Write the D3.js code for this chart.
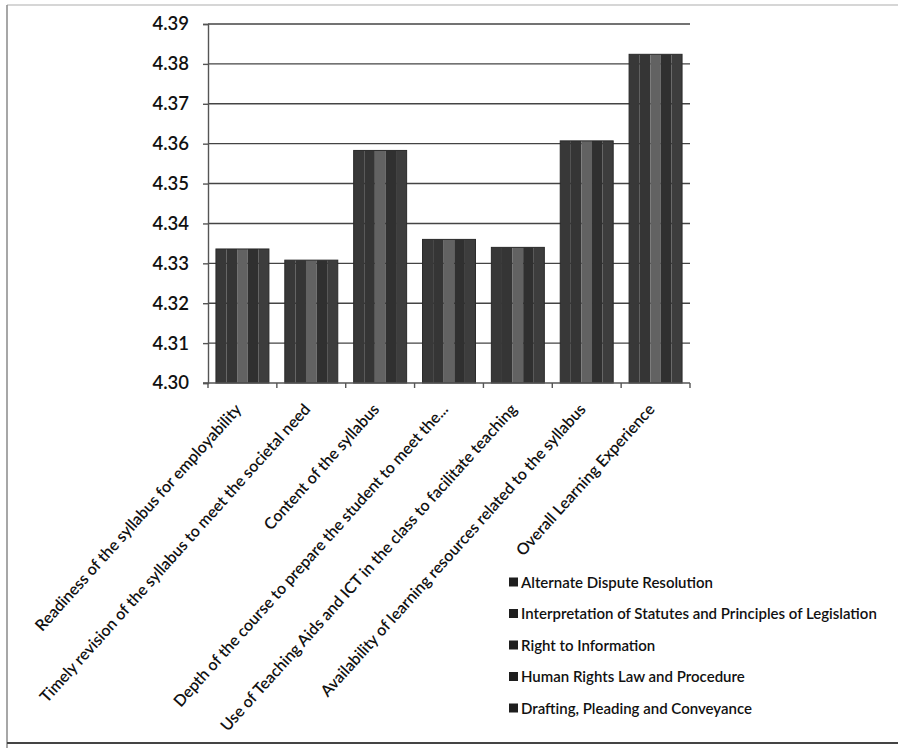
<!DOCTYPE html>
<html><head><meta charset="utf-8">
<script src="https://cdn.jsdelivr.net/npm/d3@7"></script>
<style>
body{margin:0;background:#fff;}
svg{display:block;font-family:Lato,"Open Sans",sans-serif;}
</style></head>
<body><svg id="c" width="898" height="748"></svg>
<script>
const categories = [
  "Readiness of the syllabus for employability",
  "Timely revision of the syllabus to meet the societal need",
  "Content of the syllabus",
  "Depth of the course to prepare the student to meet the...",
  "Use of Teaching Aids and ICT in the class to facilitate teaching",
  "Availability of learning resources related to the syllabus",
  "Overall Learning Experience"
];
const seriesNames = [
  "Alternate Dispute Resolution",
  "Interpretation of Statutes and Principles of Legislation",
  "Right to Information",
  "Human Rights Law and Procedure",
  "Drafting, Pleading and Conveyance"
];
const alternateDisputeResolution = [4.3336, 4.3308, 4.3583, 4.3360, 4.3340, 4.3607, 4.3824];
const interpretationOfStatutes   = [4.3336, 4.3308, 4.3583, 4.3360, 4.3340, 4.3607, 4.3824];
const rightToInformation         = [4.3336, 4.3308, 4.3583, 4.3360, 4.3340, 4.3607, 4.3824];
const humanRightsLaw             = [4.3336, 4.3308, 4.3583, 4.3360, 4.3340, 4.3607, 4.3824];
const draftingPleading           = [4.3336, 4.3308, 4.3583, 4.3360, 4.3340, 4.3607, 4.3824];
const seriesValues = [alternateDisputeResolution, interpretationOfStatutes, rightToInformation, humanRightsLaw, draftingPleading];
const yTicks = [4.30, 4.31, 4.32, 4.33, 4.34, 4.35, 4.36, 4.37, 4.38, 4.39];
const seriesColors = ["#383838", "#353535", "#626262", "#303030", "#3d3d3d"];

const svg = d3.select("#c");
// frame
svg.append("line").attr("x1",7).attr("x2",898).attr("y1",5).attr("y2",5).attr("stroke","#c8c8c8").attr("stroke-width",1.5);
svg.append("line").attr("x1",7).attr("x2",7).attr("y1",5).attr("y2",748).attr("stroke","#8a8a8a").attr("stroke-width",1.5);
svg.append("line").attr("x1",7).attr("x2",898).attr("y1",743).attr("y2",743).attr("stroke","#444").attr("stroke-width",2);

const pLeft = 208, pRight = 690, pTop = 24, pBottom = 383;
const x = d3.scaleBand().domain(categories).range([pLeft, pRight]).paddingInner(0).paddingOuter(0);
const xs = d3.scaleBand().domain(d3.range(seriesNames.length)).range([0, x.bandwidth()]).paddingOuter(0.75);
const y = d3.scaleLinear().domain([4.30, 4.39]).range([pBottom, pTop]);

// gridlines
svg.append("g").selectAll("line").data(yTicks.slice(1)).join("line")
  .attr("x1", pLeft).attr("x2", pRight)
  .attr("y1", d => y(d)).attr("y2", d => y(d))
  .attr("stroke", "#444").attr("stroke-width", 1.4);

// y axis
const yAxis = svg.append("g").attr("transform", `translate(${pLeft},0)`)
  .call(d3.axisLeft(y).tickValues(yTicks).tickFormat(d3.format(".2f")).tickSize(5).tickPadding(14));
yAxis.select(".domain").attr("stroke", "#555").attr("stroke-width", 1.4);
yAxis.selectAll(".tick line").attr("stroke", "#555").attr("stroke-width", 1.4);
yAxis.selectAll("text").attr("font-size", 18.5).attr("font-weight", 600).attr("fill", "#111").attr("font-family", "Lato,'Open Sans',sans-serif");

// bars
const groups = svg.append("g").selectAll("g").data(categories).join("g")
  .attr("transform", d => `translate(${x(d)},0)`);
groups.selectAll("rect").data((c, ci) => seriesValues.map((s, si) => ({si, v: s[ci]}))).join("rect")
  .attr("x", d => xs(d.si)).attr("width", xs.bandwidth())
  .attr("y", d => y(d.v)).attr("height", d => y(4.30) - y(d.v))
  .attr("fill", d => seriesColors[d.si]);
groups.append("rect")
  .attr("x", xs(0)).attr("width", xs.bandwidth() * seriesNames.length)
  .attr("y", (c, ci) => y(seriesValues[0][ci])).attr("height", (c, ci) => y(4.30) - y(seriesValues[0][ci]))
  .attr("fill", "none").attr("stroke", "#2a2a2a").attr("stroke-width", 1);

// x axis
const xAxis = svg.append("g").attr("transform", `translate(0,${pBottom})`);
xAxis.append("line").attr("x1", pLeft - 5).attr("x2", pRight).attr("stroke", "#555").attr("stroke-width", 1.4);
xAxis.selectAll("line.tk").data(d3.range(categories.length + 1)).join("line").attr("class","tk")
  .attr("x1", i => pLeft + i * x.step()).attr("x2", i => pLeft + i * x.step())
  .attr("y1", 0).attr("y2", 5).attr("stroke", "#555").attr("stroke-width", 1.4);
xAxis.selectAll("text").data(categories).join("text")
  .attr("transform", d => `translate(${x(d) + x.bandwidth()/2 + 0},${27}) rotate(-48)`)
  .attr("text-anchor", "end")
  .attr("font-size", 16).attr("font-weight", 600).attr("fill", "#111")
  .text(d => d);

// legend
const leg = svg.append("g").attr("transform", "translate(509,582)");
const li = leg.selectAll("g").data(seriesNames).join("g").attr("transform", (d, i) => `translate(0,${i * 31.5})`);
li.append("rect").attr("x", 0).attr("y", -4.5).attr("width", 9).attr("height", 9).attr("fill", "#1e1e1e");
li.append("text").attr("x", 12).attr("y", 5.5).attr("font-size", 15).attr("font-weight", 600).attr("fill", "#111").text(d => d);
</script></body></html>
